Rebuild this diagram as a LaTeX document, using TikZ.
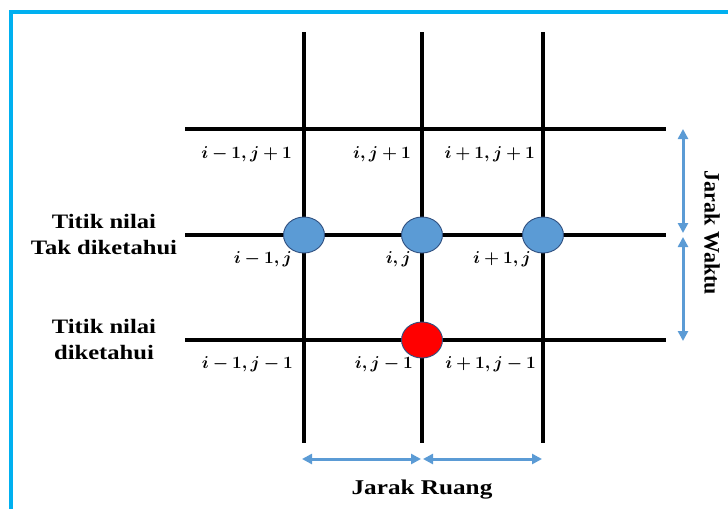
\documentclass[tikz,border=0pt]{standalone}
\usepackage{fontspec}
\usepackage{amsmath}
\usepackage{graphicx}
\setmainfont{Liberation Serif}
\newfontfamily\widefont[FakeStretch=1.2]{Liberation Serif}
\usetikzlibrary{arrows.meta,shapes.geometric}
\definecolor{frameblue}{HTML}{00B0F0}
\definecolor{ptblue}{HTML}{5B9BD5}
\definecolor{ptedge}{HTML}{2F4F7F}
\definecolor{ptred}{HTML}{FF0000}
\newcommand{\gridlab}[1]{{\boldmath$\medmuskip=3.5mu #1$}}
\tikzset{
  gridline/.style={line width=3.2pt, black},
  ptnode/.style={ellipse, minimum width=41pt, minimum height=36pt, draw=ptedge, line width=0.9pt, inner sep=0pt},
  unknownpt/.style={ptnode, fill=ptblue},
  knownpt/.style={ptnode, fill=ptred},
  lab/.style={anchor=base east, inner sep=0pt, font=\fontsize{16}{18}\selectfont},
  sidetext/.style={align=center, inner sep=0pt, font=\widefont\bfseries\fontsize{20.5}{26}\selectfont},
  dimarrow/.style={draw=ptblue, line width=3pt, {Triangle[length=10pt,width=10pt]}-{Triangle[length=10pt,width=10pt]}}
}
\begin{document}
\begin{tikzpicture}[x=1pt,y=-1pt]
\useasboundingbox (0,0) rectangle (728,509);
% frame
\draw[frameblue, line width=4pt] (11,509) -- (11,12) -- (728,12);
% grid coordinates
\coordinate (v1t) at (304,32);  \coordinate (v1b) at (304,443);
\coordinate (v2t) at (422,32);  \coordinate (v2b) at (422,443);
\coordinate (v3t) at (543,32);  \coordinate (v3b) at (543,443);
\coordinate (h1l) at (185,129); \coordinate (h1r) at (666,129);
\coordinate (h2l) at (185,235); \coordinate (h2r) at (666,235);
\coordinate (h3l) at (185,340); \coordinate (h3r) at (666,340);
\draw[gridline] (v1t) -- (v1b);
\draw[gridline] (v2t) -- (v2b);
\draw[gridline] (v3t) -- (v3b);
\draw[gridline] (h1l) -- (h1r);
\draw[gridline] (h2l) -- (h2r);
\draw[gridline] (h3l) -- (h3r);
% points
\node[unknownpt] (p1) at (304,235) {};
\node[unknownpt] (p2) at (422,235) {};
\node[unknownpt] (p3) at (543,235) {};
\node[knownpt]   (p4) at (422,340) {};
% grid labels
\node[lab] (l11) at (292,158) {\gridlab{i-1,j+1}};
\node[lab] (l12) at (411,158) {\gridlab{i,j+1}};
\node[lab] (l13) at (535,158) {\gridlab{i+1,j+1}};
\node[lab] (l21) at (292,263) {\gridlab{i-1,j}};
\node[lab] (l22) at (411,263) {\gridlab{i,j}};
\node[lab] (l23) at (531,263) {\gridlab{i+1,j}};
\node[lab] (l31) at (293,368) {\gridlab{i-1,j-1}};
\node[lab] (l32) at (413,368) {\gridlab{i,j-1}};
\node[lab] (l33) at (536,368) {\gridlab{i+1,j-1}};
% side texts
\node[sidetext] (tu) at (104,235) {Titik nilai\\Tak diketahui};
\node[sidetext] (tk) at (104,340) {Titik nilai\\diketahui};
% dimension arrows
\coordinate (w1) at (683,129);
\coordinate (w2) at (683,233);
\coordinate (w3) at (683,237);
\coordinate (w4) at (683,341);
\draw[dimarrow] (w1) -- (w2);
\draw[dimarrow] (w3) -- (w4);
\coordinate (r1) at (302,459);
\coordinate (r2) at (421,459);
\coordinate (r3) at (423,459);
\coordinate (r4) at (542,459);
\draw[dimarrow] (r1) -- (r2);
\draw[dimarrow] (r3) -- (r4);
\node[inner sep=0pt, anchor=base, font=\widefont\bfseries\fontsize{21}{24}\selectfont] (jr) at (422,494) {Jarak Ruang};
\node[inner sep=0pt, rotate=-90, font=\bfseries\fontsize{22}{24}\selectfont] (jw) at (712,233) {Jarak Waktu};
\end{tikzpicture}
\end{document}
